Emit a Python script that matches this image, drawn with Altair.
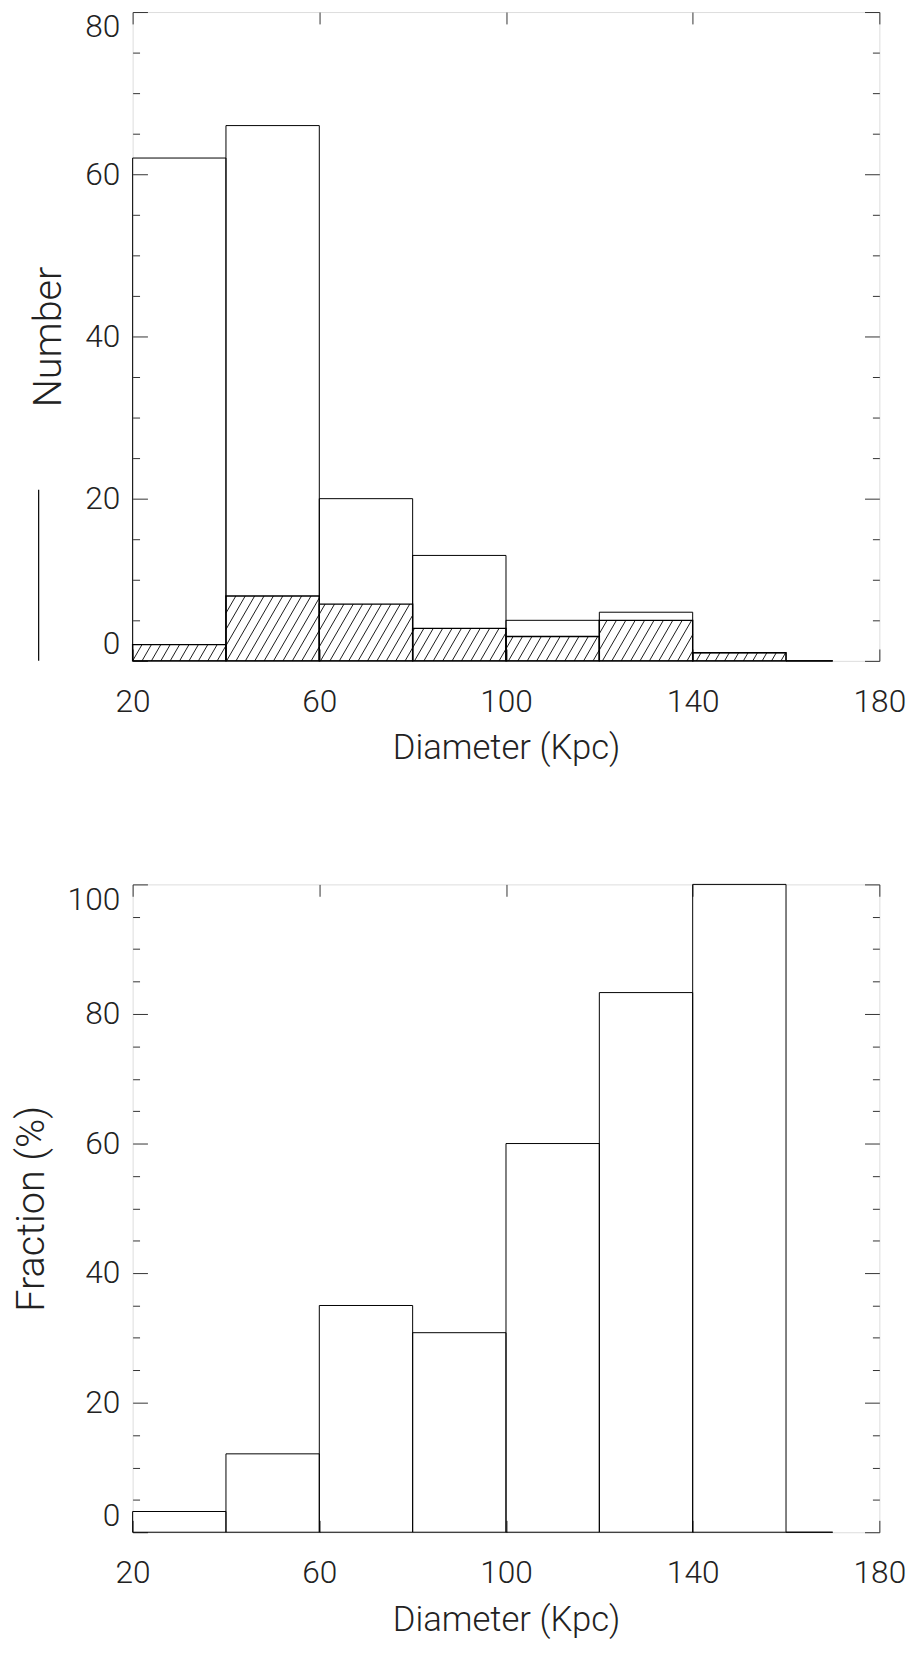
import math
import altair as alt
import pandas as pd

# ---- data ----
bin_lo = [20, 40, 60, 80, 100, 120, 140, 160]
bin_hi = [40, 60, 80, 100, 120, 140, 160, 170]
total_counts = [62, 66, 20, 13, 5, 6, 1, 0]
group_counts = [2, 8, 7, 4, 3, 5, 1, 0]
fraction_pct = [3.2, 12.1, 35.0, 30.8, 60.0, 83.3, 100.0, 0.0]

x_tick_values = [20, 60, 100, 140, 180]
number_tick_values = list(range(0, 81, 5))
fraction_tick_values = list(range(0, 101, 5))

# ---- layout / style ----
W = 755
H1 = 656
H2 = 655
X_DOMAIN = [20, 180]
N_DOMAIN = [0, 80]
F_DOMAIN = [0, 100]
FONT = "Roboto"
TXT = "#222222"
FRAME = "#333333"

df_top = pd.DataFrame({"lo": bin_lo, "hi": bin_hi, "total": total_counts, "group": group_counts})
df_bot = pd.DataFrame({"lo": bin_lo, "hi": bin_hi, "frac": fraction_pct})

# hatch segments for the hatched bars (pattern defined in pixel space)
kx = W / (X_DOMAIN[1] - X_DOMAIN[0])
ky = H1 / (N_DOMAIN[1] - N_DOMAIN[0])
slope = math.tan(math.radians(60))
spacing = 9.5
rows = []
for lo, hi, n in zip(bin_lo, bin_hi, group_counts):
    if n <= 0:
        continue
    X0 = (lo - X_DOMAIN[0]) * kx
    X1 = (hi - X_DOMAIN[0]) * kx
    Y1 = n * ky
    kmin = math.floor((X0 - Y1 / slope) / spacing) - 1
    kmax = math.ceil(X1 / spacing) + 1
    for k in range(kmin, kmax + 1):
        c = k * spacing
        a = max(X0, c)
        b = min(X1, c + Y1 / slope)
        if b - a < 0.4:
            continue
        rows.append({
            "x": a / kx + X_DOMAIN[0], "x2": b / kx + X_DOMAIN[0],
            "y": slope * (a - c) / ky, "y2": slope * (b - c) / ky,
        })
df_hatch = pd.DataFrame(rows)

label_style = dict(labelFont=FONT, labelFontSize=32, labelFontWeight=300, labelColor=TXT)
title_style = dict(titleFont=FONT, titleFontWeight=300, titleColor=TXT)


def x_bottom():
    return alt.Axis(values=x_tick_values, title="Diameter (Kpc)", titleFontSize=35,
                    tickSize=alt.ExprRef(expr="-12"), tickColor=FRAME, labelPadding=38,
                    labelFlush=False, labelOverlap=False, domain=False, grid=False,
                    titlePadding=14, **label_style, **title_style)


def x_top():
    return alt.Axis(orient="top", values=x_tick_values, title=None, labels=False,
                    tickSize=alt.ExprRef(expr="-12"), tickColor=FRAME, domain=False, grid=False)


def y_left(title, vals):
    return alt.Axis(values=vals, title=title,
                    titleFontSize=40, titlePadding=16,
                    labelExpr="datum.value % 20 === 0 ? datum.label : ''",
                    tickSize=alt.ExprRef(expr="datum.value % 20 === 0 ? -15 : -7"),
                    tickColor=FRAME, labelPadding=28, labelFlush=True, labelOverlap=False,
                    domain=False, grid=False, **label_style, **title_style)


def y_right(vals):
    return alt.Axis(orient="right", values=vals, title=None, labels=False,
                    tickSize=alt.ExprRef(expr="datum.value % 20 === 0 ? -15 : -7"),
                    tickColor=FRAME, domain=False, grid=False)


xs = alt.Scale(domain=X_DOMAIN, nice=False, zero=False)
ys_top = alt.Scale(domain=N_DOMAIN, nice=False)
ys_bot = alt.Scale(domain=F_DOMAIN, nice=False)

# ---- top panel ----
base_top = alt.Chart(df_top)
total_bars = base_top.mark_rect(fillOpacity=0, stroke="black", strokeWidth=1).encode(
    x=alt.X("lo:Q", scale=xs, axis=x_bottom()),
    x2="hi:Q",
    y=alt.Y("total:Q", scale=ys_top, axis=y_left("Number", number_tick_values)),
    y2=alt.datum(0),
)
hatch_lines = alt.Chart(df_hatch).mark_rule(color="black", strokeWidth=0.9).encode(
    x=alt.X("x:Q", scale=xs, axis=None),
    x2="x2:Q",
    y=alt.Y("y:Q", scale=ys_top, axis=None),
    y2="y2:Q",
)
group_bars = base_top.mark_rect(fillOpacity=0, stroke="black", strokeWidth=1.4).encode(
    x=alt.X("lo:Q", scale=xs, axis=x_top()),
    x2="hi:Q",
    y=alt.Y("group:Q", scale=ys_top, axis=y_right(number_tick_values)),
    y2=alt.datum(0),
)
stray = alt.Chart(pd.DataFrame({"k": [0]})).mark_rule(color="black", strokeWidth=1.2).encode(
    x=alt.value(-95), y=alt.value(483), y2=alt.value(656)
)
top = alt.layer(total_bars, hatch_lines, group_bars, stray).resolve_axis(
    x="independent", y="independent"
).properties(width=W, height=H1)

# ---- bottom panel ----
base_bot = alt.Chart(df_bot)
frac_bars = base_bot.mark_rect(fillOpacity=0, stroke="black", strokeWidth=1).encode(
    x=alt.X("lo:Q", scale=xs, axis=x_bottom()),
    x2="hi:Q",
    y=alt.Y("frac:Q", scale=ys_bot, axis=y_left("Fraction (%)", fraction_tick_values)),
    y2=alt.datum(0),
)
frac_bars2 = base_bot.mark_rect(fillOpacity=0, strokeOpacity=0).encode(
    x=alt.X("lo:Q", scale=xs, axis=x_top()),
    x2="hi:Q",
    y=alt.Y("frac:Q", scale=ys_bot, axis=y_right(fraction_tick_values)),
    y2=alt.datum(0),
)
bottom = alt.layer(frac_bars, frac_bars2).resolve_axis(
    x="independent", y="independent"
).properties(width=W, height=H2)

chart = alt.vconcat(top, bottom, spacing=117).properties(
    padding={"left": 3, "top": -7, "right": 5, "bottom": 5}
).configure_view(stroke=FRAME, strokeWidth=1).configure(background="white")

chart.save("out.html", embed_options={"renderer": "svg", "actions": False})
